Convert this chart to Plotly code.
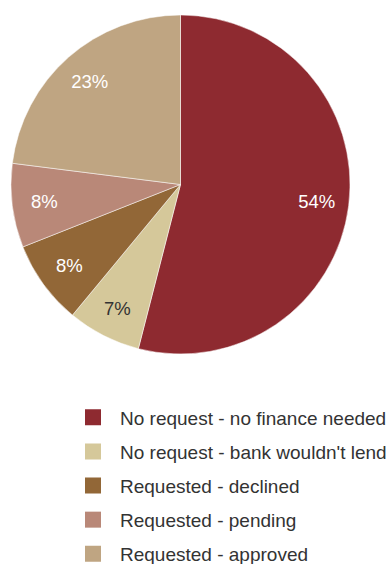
import plotly.graph_objects as go

# Share of respondents by finance request outcome
categories = [
    "No request - no finance needed",
    "No request - bank wouldn't lend",
    "Requested - declined",
    "Requested - pending",
    "Requested - approved",
]
shares = [54, 7, 8, 8, 23]
colors = ["#8E2A30", "#D5C89A", "#926737", "#B98878", "#BFA582"]
label_colors = ["#FFFFFF", "#333333", "#FFFFFF", "#FFFFFF", "#FFFFFF"]

W, H = 391, 564
FONT = "Liberation Sans, Arial, sans-serif"
PIE_DOMAIN = dict(x=[11 / W, 350 / W], y=[1 - 354 / H, 1 - 15 / H])

fig = go.Figure()

# Filled slices
fig.add_trace(go.Pie(
    labels=categories,
    values=shares,
    sort=False,
    direction="clockwise",
    rotation=0,
    marker=dict(colors=colors, line=dict(color="#FFFFFF", width=0.5)),
    textinfo="none",
    hoverinfo="label+percent",
    showlegend=False,
    domain=PIE_DOMAIN,
))

# Transparent ring on top that carries the percentage labels near the rim
fig.add_trace(go.Pie(
    labels=categories,
    values=shares,
    sort=False,
    direction="clockwise",
    rotation=0,
    hole=0.62,
    marker=dict(colors=["rgba(0,0,0,0)"] * len(shares),
                line=dict(color="rgba(0,0,0,0)", width=0)),
    texttemplate="%{value}%",
    textposition="inside",
    insidetextorientation="horizontal",
    textfont=dict(family=FONT, size=18.5, color=label_colors),
    hoverinfo="skip",
    showlegend=False,
    domain=PIE_DOMAIN,
))

# Legend entries: one square marker per category
for i, (name, col) in enumerate(zip(categories, colors)):
    fig.add_trace(go.Scatter(
        x=[None], y=[None],
        mode="markers",
        name=name,
        legendgroup=f"g{i}",
        marker=dict(symbol="square", size=16, color=col),
        showlegend=True,
    ))

fig.update_layout(
    width=W, height=H,
    margin=dict(l=0, r=0, t=0, b=0, autoexpand=False),
    paper_bgcolor="#FFFFFF",
    plot_bgcolor="#FFFFFF",
    font=dict(family=FONT, color="#333333"),
    uniformtext=dict(minsize=18.5, mode="show"),
    xaxis=dict(visible=False),
    yaxis=dict(visible=False),
    legend=dict(
        x=66 / W, xanchor="left",
        y=1 - 398.5 / H, yanchor="top",
        traceorder="grouped",
        tracegroupgap=6.4,
        itemwidth=44,
        font=dict(family=FONT, size=19, color="#333333"),
        itemsizing="trace",
        bgcolor="rgba(0,0,0,0)",
    ),
)

fig.write_html("out.html")
